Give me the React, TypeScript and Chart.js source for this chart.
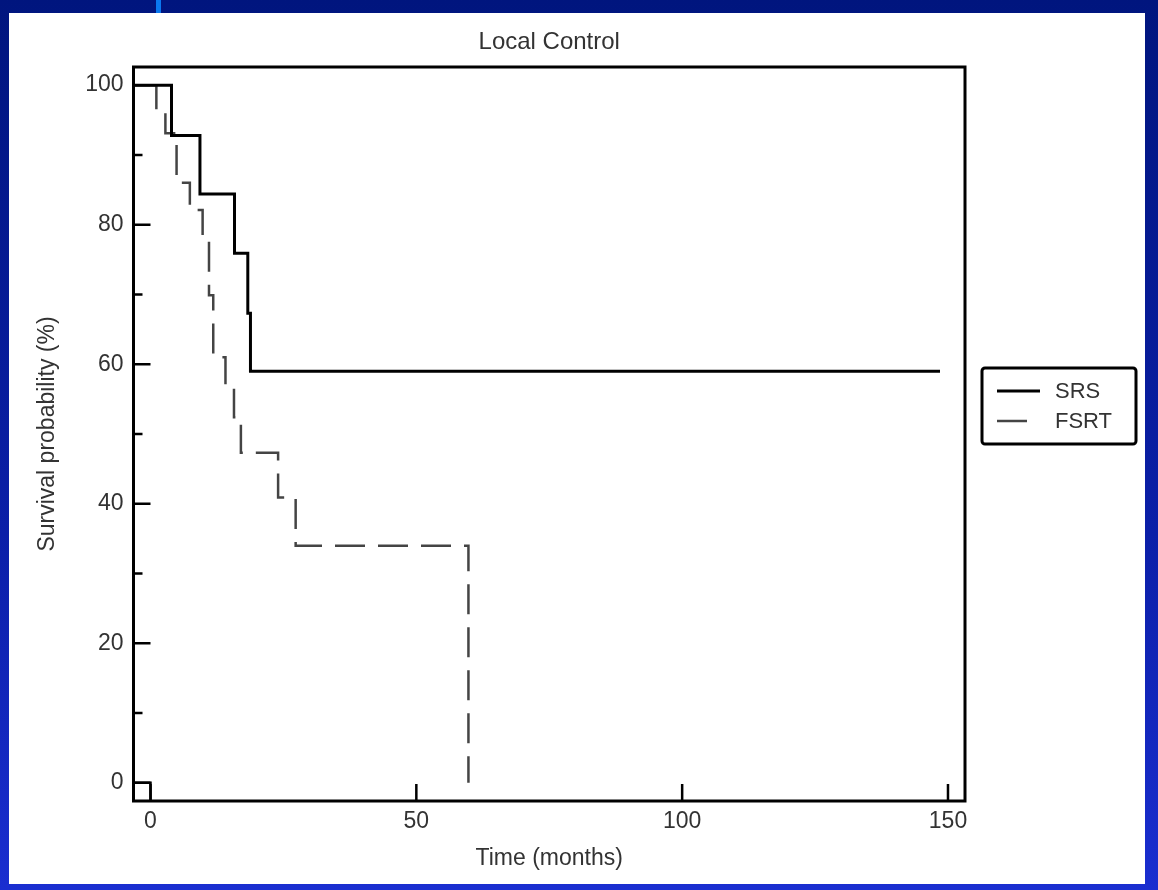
import React, { useEffect, useRef } from "react";
import { Chart, registerables } from "chart.js";

Chart.register(...registerables);

// ---- data ----
const chartTitle = "Local Control";
const xAxisTitle = "Time (months)";
const yAxisTitle = "Survival probability (%)";

const xTicks = [0, 50, 100, 150];
const yTicks = [0, 20, 40, 60, 80, 100];
const yMinorTicks = [10, 30, 50, 70, 90];
const xRange = [-3.2, 153.2];
const yRange = [-2.6, 102.6];

const srsLabel = "SRS";
const srsTime = [-3.2, 3.95, 9.3, 15.8, 18.3, 18.8, 148.5];
const srsSurv = [100, 92.8, 84.4, 75.9, 67.3, 59.0, 59.0];

const fsrtLabel = "FSRT";
const fsrtTime = [0, 1.1, 2.8, 4.9, 7.4, 9.8, 11.0, 11.8, 14.1, 15.7, 17.0, 24.0, 27.3, 59.8];
const fsrtSurv = [100, 96.4, 93.1, 86.0, 82.1, 78.0, 69.9, 61.0, 56.5, 52.4, 47.3, 40.9, 34.0, 0];

const baseTime = [-3.2, 0, 0];
const baseSurv = [0, 0, -2.6];

// ---- styling ----
const FONT = "'Liberation Sans', Arial, sans-serif";
const TEXT = "#333333";

const toPoints = (xs: number[], ys: number[]) => xs.map((x, i) => ({ x, y: ys[i] }));

const framePlugin = {
  id: "frameTicksLegend",
  afterDatasetsDraw(chart: any) {
    const { ctx, chartArea: a, scales } = chart;
    const x = scales.x;
    const y = scales.y;
    ctx.save();

    // title centred over the plot area
    ctx.fillStyle = TEXT;
    ctx.font = `24px ${FONT}`;
    ctx.textAlign = "center";
    ctx.textBaseline = "middle";
    ctx.fillText(chartTitle, (a.left + a.right) / 2, a.top - 25);

    ctx.strokeStyle = "#000";
    ctx.lineWidth = 2.5;
    ctx.beginPath();
    for (const v of xTicks) {
      const px = x.getPixelForValue(v);
      ctx.moveTo(px, a.bottom);
      ctx.lineTo(px, a.bottom - 17);
    }
    for (const v of yTicks) {
      const py = y.getPixelForValue(v);
      ctx.moveTo(a.left, py);
      ctx.lineTo(a.left + 17, py);
    }
    for (const v of yMinorTicks) {
      const py = y.getPixelForValue(v);
      ctx.moveTo(a.left, py);
      ctx.lineTo(a.left + 9, py);
    }
    ctx.stroke();

    ctx.lineWidth = 3;
    ctx.strokeRect(a.left, a.top, a.right - a.left, a.bottom - a.top);

    // legend box
    const bx = a.right + 17;
    const by = a.top + 301;
    const bw = 154;
    const bh = 76;
    ctx.beginPath();
    if ((ctx as any).roundRect) (ctx as any).roundRect(bx, by, bw, bh, 3);
    else ctx.rect(bx, by, bw, bh);
    ctx.lineWidth = 3;
    ctx.strokeStyle = "#000";
    ctx.stroke();

    const items = chart.data.datasets.filter((d: any) => d.label);
    items.forEach((d: any, i: number) => {
      const ly = by + 23 + i * 30;
      ctx.beginPath();
      ctx.setLineDash(d.borderDash || []);
      ctx.strokeStyle = d.borderColor;
      ctx.lineWidth = d.borderWidth;
      ctx.moveTo(bx + 15, ly);
      ctx.lineTo(bx + 15 + (d.borderDash ? 34 : 43), ly);
      ctx.stroke();
      ctx.setLineDash([]);
      ctx.fillStyle = TEXT;
      ctx.font = `22px ${FONT}`;
      ctx.textAlign = "left";
      ctx.textBaseline = "middle";
      ctx.fillText(d.label, bx + 73, ly + 1);
    });
    ctx.restore();
  },
};

export default function App() {
  const ref = useRef<HTMLCanvasElement | null>(null);

  useEffect(() => {
    if (!ref.current) return;
    const chart = new Chart(ref.current, {
      type: "line",
      data: {
        datasets: [
          {
            label: srsLabel,
            data: toPoints(srsTime, srsSurv),
            borderColor: "#000000",
            borderWidth: 3,
            stepped: "before",
            pointRadius: 0,
            fill: false,
          },
          {
            label: fsrtLabel,
            data: toPoints(fsrtTime, fsrtSurv),
            borderColor: "#444444",
            borderWidth: 2.5,
            borderDash: [30, 13],
            stepped: "before",
            pointRadius: 0,
            fill: false,
          },
          {
            label: "",
            data: toPoints(baseTime, baseSurv),
            borderColor: "#000000",
            borderWidth: 2.5,
            pointRadius: 0,
            fill: false,
          },
        ],
      },
      options: {
        responsive: false,
        animation: false,
        devicePixelRatio: 1,
        layout: { padding: { left: 0, right: 180, top: 54, bottom: 0 } },
        plugins: {
          legend: { display: false },
          tooltip: { enabled: false },
          title: { display: false },
        },
        scales: {
          x: {
            type: "linear",
            min: xRange[0],
            max: xRange[1],
            afterBuildTicks: (s: any) => {
              s.ticks = xTicks.map((v) => ({ value: v }));
            },
            afterFit: (s: any) => {
              s.height = 83;
            },
            grid: { display: false, drawTicks: false },
            border: { display: false },
            ticks: {
              color: TEXT,
              font: { family: FONT, size: 23 },
              padding: 7,
              maxRotation: 0,
              autoSkip: false,
            },
            title: {
              display: true,
              text: xAxisTitle,
              color: TEXT,
              font: { family: FONT, size: 23, lineHeight: 1.2 },
              padding: { top: 0, bottom: 12 },
            },
          },
          y: {
            type: "linear",
            min: yRange[0],
            max: yRange[1],
            afterBuildTicks: (s: any) => {
              s.ticks = yTicks.map((v) => ({ value: v }));
            },
            afterFit: (s: any) => {
              s.width = 124.5;
            },
            grid: { display: false, drawTicks: false },
            border: { display: false },
            ticks: {
              color: TEXT,
              font: { family: FONT, size: 23 },
              padding: 10,
              autoSkip: false,
            },
            title: {
              display: true,
              text: yAxisTitle,
              color: TEXT,
              font: { family: FONT, size: 23, lineHeight: 1.2 },
              padding: { top: 25, bottom: 0 },
            },
          },
        },
      },
      plugins: [framePlugin],
    });
    return () => chart.destroy();
  }, []);

  return (
    <div
      style={{
        position: "absolute",
        left: 0,
        top: 0,
        width: 1158,
        height: 890,
        background: "linear-gradient(to bottom, #00157e 0%, #0b1fa8 60%, #1a2ed0 100%)",
        overflow: "hidden",
      }}
    >
      <div
        style={{
          position: "absolute",
          left: 156,
          top: 0,
          width: 5,
          height: 13,
          background: "#0a78f0",
        }}
      />
      <div
        style={{
          position: "absolute",
          left: 9,
          top: 13,
          width: 1136,
          height: 871,
          background: "#ffffff",
        }}
      >
        <canvas ref={ref} width={1136} height={871} style={{ display: "block" }} />
      </div>
    </div>
  );
}
